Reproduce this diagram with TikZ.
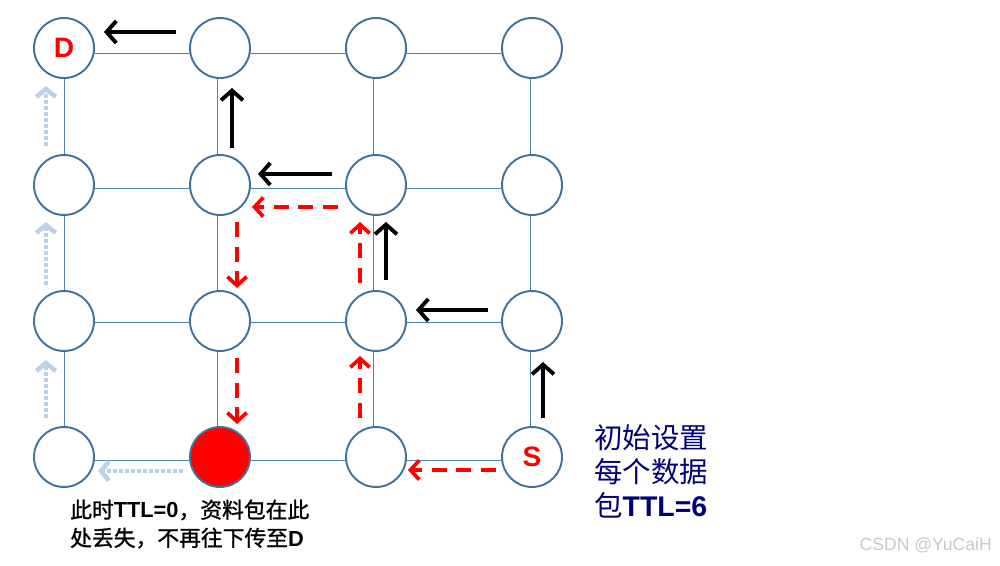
\documentclass[tikz,border=0pt]{standalone}
\usepackage{fontspec}
\setmainfont{Liberation Sans}
\newfontfamily\cjk{Noto Sans CJK SC}
\newfontfamily\cjkheavy{Noto Sans CJK SC}[FakeBold=1.2]
\usepackage{tikz}
\usetikzlibrary{arrows.meta,backgrounds}
\definecolor{routerblue}{RGB}{65,113,156}
\definecolor{linkblue}{RGB}{79,129,189}
\definecolor{fadeblue}{RGB}{189,208,234}
\definecolor{darknavy}{RGB}{0,0,120}

\begin{document}
\begin{tikzpicture}[x=0.02cm, y=-0.02cm,
    router/.style={circle, draw=routerblue, line width=1.1pt, fill=white, minimum size=1.2cm, inner sep=0pt, text=red, font=\fontsize{16}{16}\selectfont\bfseries},
    link/.style={linkblue, line width=0.5pt},
    hop/.style={-{Straight Barb[length=5.5pt,width=12.5pt]}, line width=2.2pt},
    ttlhop/.style={-{Straight Barb[length=5pt,width=11pt]}, red, line width=2.1pt, dash pattern=on 8.5pt off 5.5pt},
    ghost/.style={-{Straight Barb[length=4.5pt,width=11pt]}, fadeblue, line width=2.6pt, dash pattern=on 2.2pt off 1.2pt}]
    \useasboundingbox (0, 0) rectangle (1000, 565);

    \node[router] (n11) at (64, 48) {D};
    \node[router] (n12) at (220, 48) {};
    \node[router] (n13) at (376, 48) {};
    \node[router] (n14) at (532, 48) {};
    \node[router] (n21) at (64, 185) {};
    \node[router] (n22) at (220, 185) {};
    \node[router] (n23) at (376, 185) {};
    \node[router] (n24) at (532, 185) {};
    \node[router] (n31) at (64, 321) {};
    \node[router] (n32) at (220, 321) {};
    \node[router] (n33) at (376, 321) {};
    \node[router] (n34) at (532, 321) {};
    \node[router] (n41) at (64, 457) {};
    \node[router, fill=red] (n42) at (220, 457) {};
    \node[router] (n43) at (376, 457) {};
    \node[router] (n44) at (532, 457) {S};

    \begin{scope}[on background layer]
    \draw[link] ([shift={(0,5)}]n11.center) -- ([shift={(0,5)}]n14.center);
    \draw[link] ([shift={(0,3)}]n21.center) -- ([shift={(0,3)}]n24.center);
    \draw[link] ([shift={(0,1)}]n31.center) -- ([shift={(0,1)}]n34.center);
    \draw[link] ([shift={(0,3)}]n41.center) -- ([shift={(0,3)}]n44.center);
    \draw[link] (n11.center) -- (n41.center);
    \draw[link] ([shift={(-3,0)}]n12.center) -- ([shift={(-3,0)}]n42.center);
    \draw[link] ([shift={(-3,0)}]n13.center) -- ([shift={(-3,0)}]n43.center);
    \draw[link] ([shift={(-2,0)}]n14.center) -- ([shift={(-2,0)}]n44.center);
    \end{scope}

    \draw[hop] ([shift={(11,-39)}]n44.center) -- ([shift={(11,41)}]n34.center);
    \draw[hop] ([shift={(-44,-11)}]n34.center) -- ([shift={(40,-11)}]n33.center);
    \draw[hop] ([shift={(10,-41)}]n33.center) -- ([shift={(10,37)}]n23.center);
    \draw[hop] ([shift={(-44,-11)}]n23.center) -- ([shift={(38,-11)}]n22.center);
    \draw[hop] ([shift={(12,-37)}]n22.center) -- ([shift={(12,40)}]n12.center);
    \draw[hop] ([shift={(-44,-16)}]n12.center) -- ([shift={(40,-16)}]n11.center);

    \draw[ttlhop] ([shift={(-36,13)}]n44.center) -- ([shift={(32,13)}]n43.center);
    \draw[ttlhop] ([shift={(-16,-39)}]n43.center) -- ([shift={(-16,35)}]n33.center);
    \draw[ttlhop] ([shift={(-16,-38)}]n33.center) -- ([shift={(-16,37)}]n23.center);
    \draw[ttlhop] ([shift={(-38,22)}]n23.center) -- ([shift={(32,22)}]n22.center);
    \draw[ttlhop] ([shift={(17,37)}]n22.center) -- ([shift={(17,-33)}]n32.center);
    \draw[ttlhop] ([shift={(17,37)}]n32.center) -- ([shift={(17,-33)}]n42.center);

    \draw[ghost] ([shift={(-37,14)}]n42.center) -- ([shift={(34,14)}]n41.center);
    \draw[ghost] ([shift={(-18,-39)}]n41.center) -- ([shift={(-18,39)}]n31.center);
    \draw[ghost] ([shift={(-18,-36)}]n31.center) -- ([shift={(-18,37)}]n21.center);
    \draw[ghost] ([shift={(-18,-39)}]n21.center) -- ([shift={(-18,38)}]n11.center);

    \node[anchor=west, align=left, font=\fontsize{12.4}{16}\selectfont] (dropnote) at (64, 524)
        {{\cjkheavy 此时}\textbf{TTL=0}{\cjkheavy ，资料包在此}\\{\cjkheavy 处丢失，不再往下传至}\textbf{D}};
    \node[anchor=west, align=left, text=darknavy, font=\fontsize{16.2}{19.3}\selectfont] (ttlnote) at (588, 471)
        {{\cjk 初始设置}\\{\cjk 每个数据}\\{\cjk 包}\textbf{TTL=6}};
    \node[anchor=east, text=black!22, font=\fontsize{10}{12}\selectfont] (mark) at (998, 545) {CSDN @YuCaiH};
\end{tikzpicture}
\end{document}
